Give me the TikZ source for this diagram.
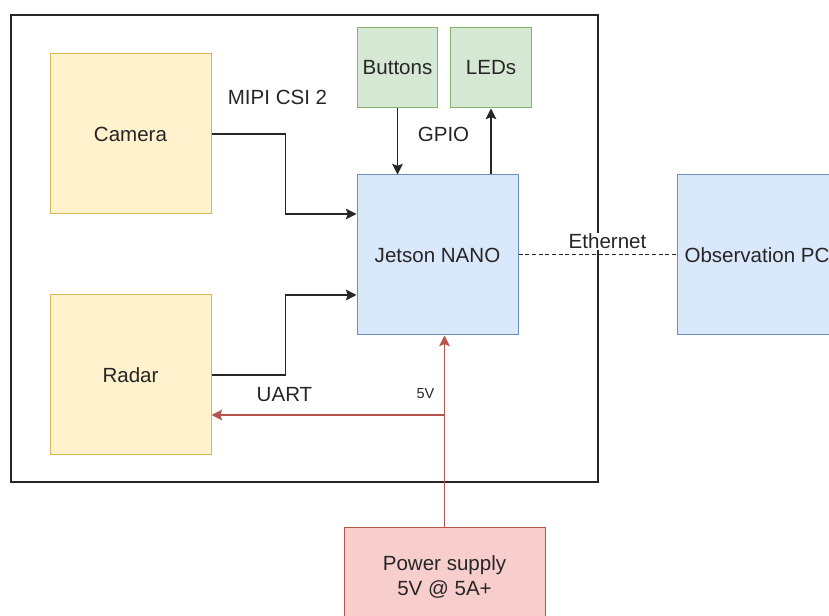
\documentclass[tikz,border=0pt]{standalone}
\usepackage{fontspec}
\setmainfont{Liberation Sans}
\usetikzlibrary{arrows.meta,calc}
\definecolor{yelfill}{HTML}{FFF2CC}
\definecolor{yelline}{HTML}{D6B656}
\definecolor{grnfill}{HTML}{D5E8D4}
\definecolor{grnline}{HTML}{82B366}
\definecolor{blufill}{HTML}{DAE8FC}
\definecolor{bluline}{HTML}{6C8EBF}
\definecolor{redfill}{HTML}{F8CECC}
\definecolor{redline}{HTML}{B85450}
\definecolor{txt}{HTML}{262626}
\begin{document}
\begin{tikzpicture}[x=0.75pt, y=-0.75pt, every node/.style={font=\fontsize{15.4}{18.5}\selectfont, text=txt, inner sep=0pt},
    block/.style={draw, line width=0.75pt, align=center, minimum width=120.75pt, minimum height=120pt},
    camblock/.style={block, fill=yelfill, draw=yelline},
    ioblock/.style={block, fill=grnfill, draw=grnline, minimum width=60.5pt, minimum height=60pt},
    cpublock/.style={block, fill=blufill, draw=bluline},
    pwrblock/.style={block, fill=redfill, draw=redline, minimum width=150.75pt, minimum height=73.5pt},
    lbl/.style={fill=white, inner sep=1pt},
    arr/.style={draw=txt, line width=0.9pt, -{Stealth[length=8pt, width=8pt, inset=1.5pt]}},
    pwr/.style={arr, draw=redline, fill=redline}]

    \useasboundingbox (0,0) rectangle (829,616);
    \clip (0,0) rectangle (829,616);

    \draw[line width=1.1pt, draw=txt] (11,15) rectangle (598,482);

    \node[camblock] (cam) at (130.5,134) {Camera};
    \node[camblock] (radar) at (130.5,375) {Radar};
    \node[ioblock] (btn) at (397.5,68) {Buttons};
    \node[ioblock] (led) at (491,68) {LEDs};
    \node[cpublock] (jet) at (437.5,255) {Jetson NANO};
    \node[cpublock, minimum width=120pt] (pc) at (757,255) {Observation PC};
    \node[pwrblock] (psu) at (444.5,577) {Power supply\\5V @ 5A+};

    \node (mipi) at (277.5,97) {MIPI CSI 2};
    \node (gpio) at (443.5,134.5) {GPIO};
    \node (uart) at (284.5,395) {UART};
    \node[font=\fontsize{10.9}{13}\selectfont] (fivev) at (425.5,393.5) {5V};
    \node[lbl] (eth) at (607.5,241.5) {Ethernet};

    \draw[arr] (cam.east) -- ++(74,0) |- ($(jet.west)+(0,-41)$);
    \draw[arr] (radar.east) -- ++(74,0) |- ($(jet.west)+(0,40)$);
    \draw[arr] (btn.south) -- (btn.south |- jet.north);
    \draw[arr] (jet.north -| led.south) -- (led.south);
    \draw[txt, line width=0.75pt, dashed, dash pattern=on 3pt off 2pt] (jet.east) -- (pc.west);
    \draw[pwr] (psu.north) -- (psu.north |- jet.south);
    \draw[pwr] (psu.north |- 0,415) -- (radar.east |- 0,415);

\end{tikzpicture}
\end{document}
